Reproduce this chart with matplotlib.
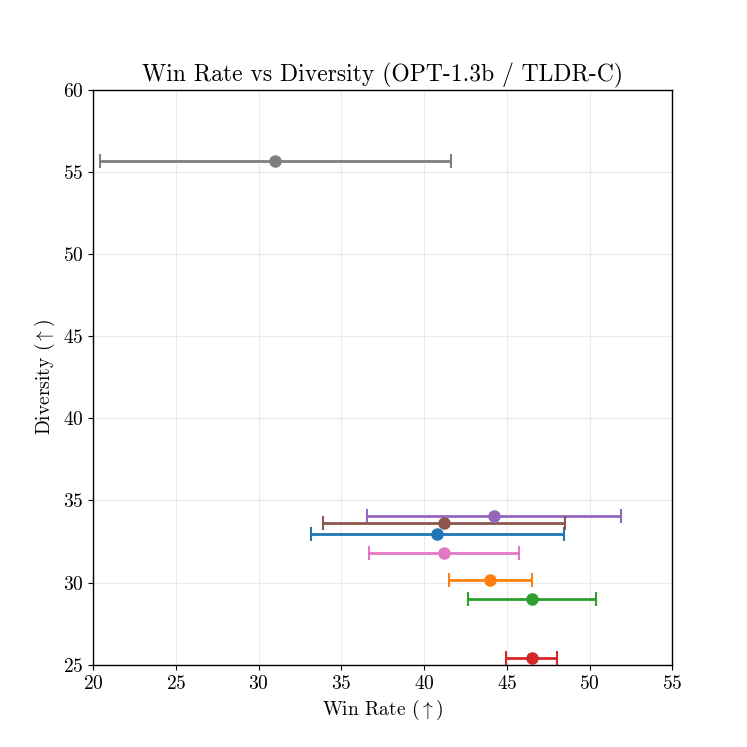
import matplotlib
matplotlib.use("Agg")
import matplotlib.pyplot as plt

plt.rcParams['font.family'] = 'serif'
plt.rcParams['font.serif'] = ['cmr10', 'DejaVu Serif']
plt.rcParams['mathtext.fontset'] = 'cm'
plt.rcParams['axes.formatter.use_mathtext'] = True

# win rate (x), diversity (y), win-rate error (symmetric)
win_rate = [40.8, 44.0, 46.5, 46.5, 44.2, 41.2, 41.2, 31.0]
diversity = [32.96, 30.16, 28.98, 25.4, 34.07, 33.65, 31.78, 55.68]
win_err = [7.65, 2.5, 3.88, 1.53, 7.67, 7.3, 4.55, 10.6]
colors = ['C0', 'C1', 'C2', 'C3', 'C4', 'C5', 'C6', 'C7']

fig, ax = plt.subplots(figsize=(7.47, 7.47), dpi=100)
for x, y, e, c in zip(win_rate, diversity, win_err, colors):
    ax.errorbar(x, y, xerr=e, fmt='o', color=c, ecolor=c, elinewidth=2,
                capsize=5, capthick=1.5, markersize=8)

ax.set_xlim(20, 55)
ax.set_ylim(25, 60)
ax.set_xlabel(r'Win Rate ($\uparrow$)', fontsize=14)
ax.set_ylabel(r'Diversity ($\uparrow$)', fontsize=14)
ax.set_title('Win Rate vs Diversity (OPT-1.3b / TLDR-C)', fontsize=17)
ax.tick_params(labelsize=14)
for s in ax.spines.values():
    s.set_linewidth(1.0)
ax.grid(True, alpha=0.25)

fig.savefig('out.png', dpi=100)
